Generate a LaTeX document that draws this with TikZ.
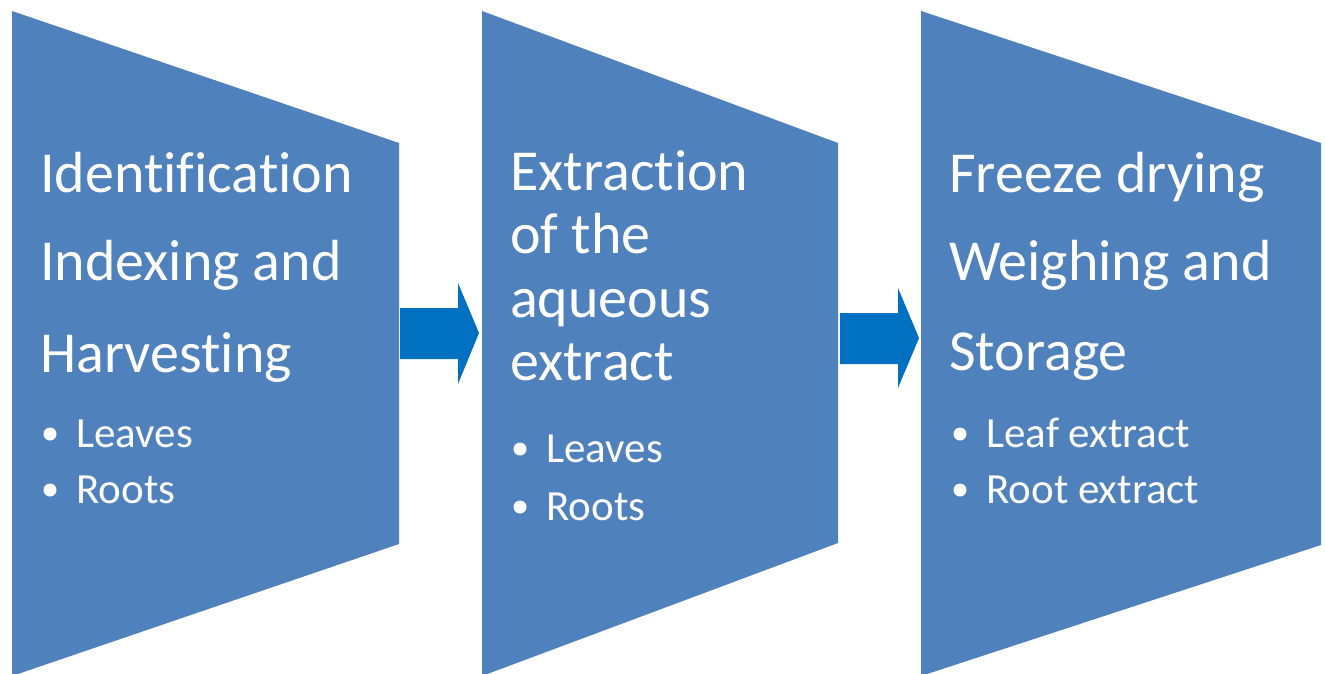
\documentclass[tikz,border=0pt]{standalone}
\usepackage{fontspec}
\setmainfont[Ligatures=NoCommon,RawFeature=-liga]{Carlito}
\definecolor{boxblue}{HTML}{4F81BD}
\definecolor{arrowblue}{HTML}{0070C0}
\begin{document}
\begin{tikzpicture}[x=1pt,y=-1pt,
  stagebox/.style={fill=boxblue,draw=none},
  blockarrow/.style={fill=arrowblue,draw=none},
  title/.style={text=white,anchor=base west,inner sep=0pt,font=\fontsize{58}{64}\selectfont},
  item/.style={text=white,anchor=base west,inner sep=0pt,font=\fontsize{43}{50}\selectfont},
  dot/.style={circle,fill=white,inner sep=0pt,minimum size=13pt}]
\useasboundingbox (0,0) rectangle (1325,674);
% stage shapes
\fill[stagebox] (12,11) -- (399,143) -- (399,544) -- (12,676) -- cycle;
\fill[stagebox] (482,11) -- (838,143) -- (838,543) -- (482,676) -- cycle;
\fill[stagebox] (921,11) -- (1321,143) -- (1321,545) -- (921,676) -- cycle;
% block arrows
\fill[blockarrow] (400,308) -- (458,308) -- (458,283) -- (479,333) -- (458,384) -- (458,359) -- (400,359) -- cycle;
\fill[blockarrow] (840,313) -- (898,313) -- (898,288) -- (919,338) -- (898,388) -- (898,364) -- (840,364) -- cycle;
% column 1
\node[title] (t1a) at (40,192) {Identification};
\node[title] (t1b) at (40,280) {Indexing and};
\node[title] (t1c) at (40,372) {Harvesting};
\node[dot] (d1a) at (50,434) {};
\node[item] (i1a) at (76,447) {Leaves};
\node[dot] (d1b) at (50,490) {};
\node[item] (i1b) at (76,503) {Roots};
% column 2
\node[title] (t2a) at (510,190) {Extraction};
\node[title] (t2b) at (510,253) {of the};
\node[title] (t2c) at (510,317) {aqueous};
\node[title] (t2d) at (510,380) {extract};
\node[dot] (d2a) at (520,449) {};
\node[item] (i2a) at (546,462) {Leaves};
\node[dot] (d2b) at (520,507) {};
\node[item] (i2b) at (546,520) {Roots};
% column 3
\node[title] (t3a) at (949,192) {Freeze drying};
\node[title] (t3b) at (949,280) {Weighing and};
\node[title] (t3c) at (949,370) {Storage};
\node[dot] (d3a) at (960,434) {};
\node[item] (i3a) at (986,447) {Leaf extract};
\node[dot] (d3b) at (960,490) {};
\node[item] (i3b) at (986,503) {Root extract};
\end{tikzpicture}
\end{document}
